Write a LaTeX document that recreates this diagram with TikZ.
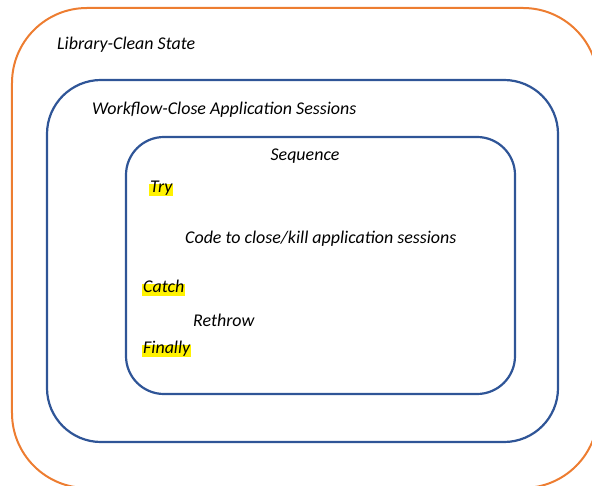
\documentclass[tikz,border=0pt]{standalone}
\usepackage{fontspec}
\setmainfont{Carlito}
\definecolor{officeorange}{HTML}{ED7D31}
\definecolor{officeblue}{HTML}{2F5597}

\begin{document}
\begin{tikzpicture}[
    x=1bp, y=-1bp,
    frame/.style={draw, rectangle, line width=2.2bp},
    caption/.style={anchor=west, inner xsep=1bp, inner ysep=1.5bp,
                    text height=0.75em, text depth=0.25em,
                    font=\fontsize{18}{22}\selectfont\itshape},
    hilite/.style={caption, fill=yellow}
]
    \clip (0,0) rectangle (592,486);
    % Library
    \node[frame, draw=officeorange, line width=2bp, rounded corners=75bp,
          minimum width=586bp, minimum height=480bp] (lib) at (305,248) {};
    % Workflow
    \node[frame, draw=officeblue, rounded corners=54bp,
          minimum width=511bp, minimum height=362bp] (wf) at (302.5,261) {};
    % Sequence
    \node[frame, draw=officeblue, rounded corners=38bp,
          minimum width=389bp, minimum height=257bp] (seq) at (320.5,265.5) {};

    % Texts
    \node[caption] (libname) at (56,47) {Library-Clean State};
    \node[caption] (wfname) at (91,112) {Workflow-Close Application Sessions};
    \node[caption, anchor=center] (seqname) at (305,158) {Sequence};
    \node[hilite] (try) at (149,190) {Try};
    \node[caption] (code) at (184,241) {Code to close/kill application sessions};
    \node[hilite] (catch) at (142,290) {Catch};
    \node[caption] (rethrow) at (192,324) {Rethrow};
    \node[hilite] (finally) at (142,351) {Finally};
\end{tikzpicture}
\end{document}
